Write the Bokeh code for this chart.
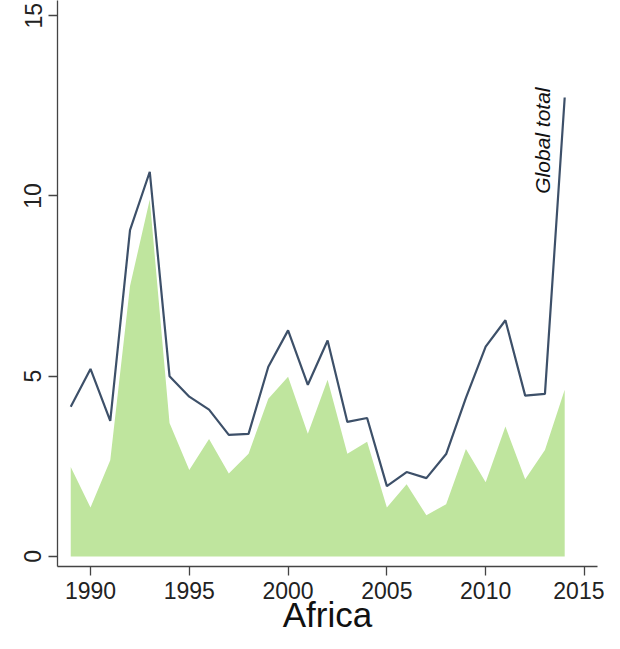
import math
from bokeh.plotting import figure
from bokeh.models import ColumnDataSource, FixedTicker, Label, Range1d
from bokeh.embed import file_html
from bokeh.resources import INLINE

years = list(range(1989, 2015))
global_total = [4.15, 5.2, 3.76, 9.05, 10.67, 5.0, 4.43, 4.07, 3.37, 3.4,
                5.26, 6.27, 4.76, 5.99, 3.73, 3.84, 1.95, 2.34, 2.17, 2.84,
                4.4, 5.82, 6.55, 4.46, 4.51, 12.73]
africa = [2.48, 1.36, 2.67, 7.5, 9.9, 3.7, 2.4, 3.26, 2.3, 2.85,
          4.37, 4.98, 3.4, 4.9, 2.85, 3.18, 1.36, 2.0, 1.14, 1.45,
          2.98, 2.06, 3.6, 2.14, 2.95, 4.62]
x_ticks = [1990, 1995, 2000, 2005, 2010, 2015]
y_ticks = [0, 5, 10, 15]
region_name = "Africa"
line_label = "Global total"

src = ColumnDataSource(dict(year=years, total=global_total, africa=africa))

p = figure(width=604, height=641, output_backend="svg", toolbar_location=None,
           x_range=Range1d(1988.33, 2015.66), y_range=Range1d(-0.28, 15.42),
           min_border_left=57, min_border_right=7, min_border_top=0,
           min_border_bottom=75)
p.outline_line_color = None
p.background_fill_color = "white"
p.border_fill_color = "white"
p.xgrid.visible = False
p.ygrid.visible = False

p.varea(x="year", y1=0, y2="africa", source=src, fill_color="#bfe59e", fill_alpha=1.0)
p.line(x="year", y="total", source=src, line_color="#3d5069", line_width=2.2)

font = "Liberation Sans"
for ax in (p.xaxis[0], p.yaxis[0]):
    ax.axis_line_color = "#444444"
    ax.axis_line_width = 1.3
    ax.major_tick_line_color = "#444444"
    ax.major_tick_line_width = 1.3
    ax.major_tick_out = 9
    ax.major_tick_in = 0
    ax.minor_tick_line_color = None
    ax.major_label_text_font = font
    ax.major_label_text_font_size = "23px"
    ax.major_label_text_color = "#222222"

p.xaxis.ticker = FixedTicker(ticks=x_ticks)
p.yaxis.ticker = FixedTicker(ticks=y_ticks)
p.xaxis.major_label_standoff = 6
p.yaxis.major_label_standoff = 7
p.yaxis.major_label_orientation = "vertical"

p.xaxis.axis_label = region_name
p.xaxis.axis_label_text_font = font
p.xaxis.axis_label_text_font_style = "normal"
p.xaxis.axis_label_text_font_size = "35px"
p.xaxis.axis_label_text_color = "#111111"
p.xaxis.axis_label_standoff = -7

p.add_layout(Label(x=2012.87, y=10.06, text=line_label, text_font=font,
                   text_font_style="italic", text_font_size="21px",
                   text_color="#111111", angle=math.pi / 2,
                   text_align="left", text_baseline="alphabetic"))

open("out.html", "w").write(file_html(p, INLINE))
